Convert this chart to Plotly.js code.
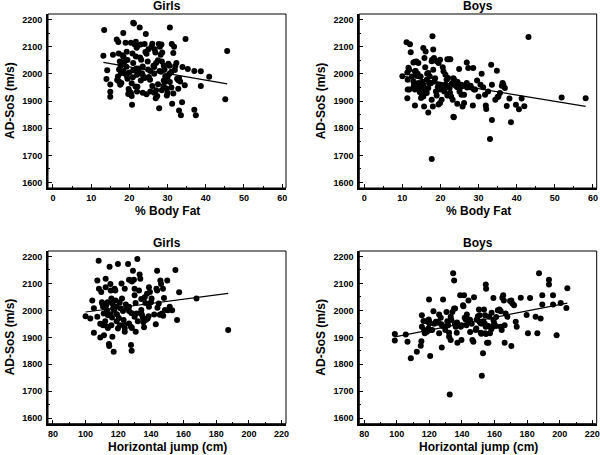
<!DOCTYPE html>
<html>
<head>
<meta charset="utf-8">
<script src="https://cdn.plot.ly/plotly-3.0.1.min.js"></script>
<style>html,body{margin:0;padding:0;background:#fff}#chart{width:600px;height:455px}</style>
</head>
<body>
<div id="chart"></div>
<script>
// ---- Girls: % Body Fat vs AD-SoS ----
const girlsFatX = [13.4,13.2,14.2,14.0,15.0,15.0,15.0,15.7,16.7,17.1,18.4,17.2,17.5,17.7,17.3,17.8,17.0,16.8,17.3,17.6,17.9,18.2,18.5,18.7,19.0,19.3,19.5,19.2,19.3,19.5,19.8,19.7,20.4,20.4,20.8,21.0,21.0,20.9,20.6,20.6,20.7,21.0,21.2,21.4,21.7,21.9,22.1,21.7,21.8,22.0,22.3,21.6,22.1,22.7,23.0,22.8,23.1,23.3,23.6,23.5,24.0,24.3,24.2,24.5,24.8,24.9,25.1,25.4,25.8,26.0,26.3,26.5,26.6,26.8,27.0,27.3,26.9,27.7,28.0,28.4,28.2,28.6,27.9,28.3,29.0,29.2,29.4,29.3,28.9,29.7,30.0,30.2,30.5,30.0,30.6,31.0,29.8,31.2,31.5,31.0,31.9,32.3,32.5,32.8,33.0,33.3,30.6,31.1,31.7,33.9,32.8,31.5,33.0,33.5,33.8,37.0,37.4,34.7,34.5,35.3,37.0,38.7,40.9,38.7,45.6,45.1,27.8,26.5,25.5,24.5,23.5,22.0,20.0,26.0,27.5,28.5,23.0,24.0,25.5,22.5,20.0,18.5,19.0,26.5,27.0,27.5,28.5,30.5,32.0,29.0,25.0];
const girlsFatY = [2161,2066,2013,1981,1961,1934,1916,2070,2126,2117,2150,2075,2045,2030,2016,2002,1990,1977,1972,1960,1966,2068,2062,2043,2114,2081,2051,2026,1993,1982,1944,1926,1930,2114,2075,2040,2013,1987,1965,1918,1886,2188,2185,2108,2118,2096,2102,2064,2020,1997,2003,1953,1952,2170,2108,2060,2052,2002,1992,2027,2110,2146,2080,2074,2045,2016,1988,1978,2100,2111,2030,2000,2090,2078,1940,1918,1910,2110,2100,2108,2070,2078,2010,2008,2030,2016,1990,1970,1955,1946,1930,2037,2030,1988,1970,1950,1920,1890,2077,2008,2014,2040,1982,1976,1985,1972,2170,2110,2100,2025,1945,1928,1865,1848,1895,1868,1848,2128,1958,2018,2010,2009,1989,1955,2084,1906,1873,1930,1935,1925,1930,1935,1935,1955,1962,1940,1975,1985,2010,2020,2005,2010,2000,2025,2040,2050,2045,2000,2028,1975,2090];
const girlsFatFitX = [13.2, 45.6];
const girlsFatFitY = [2042, 1963];

// ---- Boys: % Body Fat vs AD-SoS ----
const boysFatX = [10.0,11.1,12.0,11.6,11.8,11.3,11.4,11.4,11.8,11.3,12.2,12.9,13.3,13.7,14.2,13.3,13.6,14.0,12.9,13.1,12.9,13.3,13.3,14.2,14.5,14.6,14.6,15.1,14.9,15.5,16.1,15.8,16.0,15.5,15.7,16.8,16.4,17.0,16.8,16.4,16.8,17.9,17.7,17.8,18.1,18.3,18.1,18.6,18.4,17.7,18.0,17.7,19.0,19.5,19.9,19.5,19.8,19.3,19.9,19.9,20.3,19.5,20.6,20.8,21.3,21.6,21.3,21.8,22.2,22.6,22.4,22.8,22.8,23.2,23.4,23.6,23.4,23.5,24.0,24.4,24.4,24.9,25.1,25.5,26.2,25.8,26.2,26.9,27.3,26.9,27.9,28.6,28.5,28.8,29.1,29.6,30.0,30.8,31.2,31.7,31.9,32.0,33.3,33.5,33.5,33.0,34.8,34.4,35.2,35.6,36.1,36.3,36.9,37.4,38.1,38.5,39.8,40.6,41.3,42.0,43.1,51.8,58.1,14.8,15.2,15.8,16.0,17.2,17.5,18.8,19.0,20.5,21.0,21.8,22.0,23.0,24.5,25.5,26.0,27.0,28.0,30.5,32.5,35.0,36.5,12.5,13.8,15.5,16.5,20.0,21.5,22.5,25.0,13.5,14.0];
const boysFatY = [1991,2116,2109,2022,2015,2005,1978,1942,1942,1910,2079,2042,2044,2045,2040,2009,2003,2000,1972,1960,1951,1942,1883,1966,1956,1948,1932,1924,1911,2095,2082,2058,2024,1917,1880,2003,1978,1966,1948,1929,1858,2138,2046,2052,2089,2058,2015,1984,1972,1905,1880,1687,2046,2040,2052,1960,1956,1951,1942,1893,1905,1887,2024,2009,1997,1978,1960,2054,2054,2054,1948,1960,1917,1905,1984,1978,1842,1840,1956,1951,1890,2018,1948,1923,1923,1880,1893,2042,2021,1966,1956,2021,1883,1942,1942,1975,1917,2000,1951,1923,1883,1871,2033,1960,1830,1760,2011,1905,1917,1929,1956,1966,1948,1882,1909,1822,1886,1870,1909,1881,2135,1913,1910,1990,1970,1945,1930,1990,1965,1935,1920,1945,1935,1920,1985,1965,1970,1960,1955,1950,1950,1960,1935,1915,1960,1990,1995,1960,2000,1960,1950,1930,1935,2010,1945];
const boysFatFitX = [10.0, 58.1];
const boysFatFitY = [1992, 1880];

// ---- Girls: Horizontal jump vs AD-SoS ----
const girlsJumpX = [100.0,102.9,104.1,105.1,105.1,107.2,107.2,108.0,108.2,109.0,109.6,110.2,110.7,111.1,110.7,111.3,112.3,112.3,112.7,113.1,113.7,113.3,113.7,114.3,114.5,114.7,115.2,115.4,115.8,116.4,116.8,115.4,116.2,115.8,116.4,117.2,117.8,118.2,118.4,118.8,119.2,119.8,119.8,120.4,120.9,121.3,122.3,122.9,123.3,123.7,124.0,124.0,124.0,124.6,126.0,126.6,126.6,126.6,126.6,127.8,128.4,127.8,128.4,127.8,128.2,129.0,129.6,130.0,130.0,130.6,131.1,130.0,130.7,131.7,132.7,133.1,133.5,134.1,134.1,134.5,135.0,135.4,135.8,136.2,136.6,137.6,138.0,138.6,138.8,138.8,139.4,140.4,143.0,143.8,143.4,143.8,144.8,145.4,145.8,146.2,146.8,147.4,148.0,148.6,150.0,151.5,153.0,155.0,156.0,157.3,167.9,187.3,112.0,113.5,117.5,119.0,121.0,125.0,128.0,132.0,134.0,137.0,140.0,142.0,144.0,147.5,150.5,122.0,110.0,109.0];
const girlsJumpY = [1978,1970,2037,2008,1917,1976,2111,2184,2080,1899,2068,2025,2013,1988,1945,1908,2117,2086,2019,2000,1982,1939,1935,1875,1868,2162,2098,2074,2044,2025,2007,1986,1974,1945,1902,1847,2080,2074,2037,2013,1986,2172,1933,1972,2029,2008,2044,1998,1964,1948,1935,1921,2080,2022,2172,2113,2013,1998,1951,2111,2107,1939,1935,1872,1850,2147,2113,2080,2056,2027,1988,1976,1921,2190,2074,2133,2117,2042,2001,1984,1974,1956,1937,2049,2027,2062,1970,1978,2013,2086,2068,2044,1949,2147,2080,2074,2025,1984,2111,2098,1988,2080,2046,2001,2111,2013,2000,2150,1964,2067,2044,1927,1960,2030,2000,1960,1945,2010,1990,1960,1990,1965,2030,1985,2010,1980,2000,2100,2030,1950];
const girlsJumpFitX = [100.0, 187.3];
const girlsJumpFitY = [1994, 2063];

// ---- Boys: Horizontal jump vs AD-SoS ----
const boysJumpX = [98.8,98.8,105.5,106.6,108.6,112.3,114.7,115.1,115.4,115.4,116.4,116.8,117.2,118.6,119.4,119.6,120.0,120.0,119.8,120.5,120.7,121.7,122.5,124.0,125.0,125.4,126.0,127.0,127.4,128.0,127.6,128.4,129.2,129.8,130.5,131.5,132.1,132.1,133.1,133.1,133.5,134.1,134.6,135.2,135.2,135.8,135.6,136.2,136.8,137.2,138.9,139.3,139.7,139.7,140.7,140.9,141.3,141.7,142.3,142.7,144.0,144.4,145.0,146.4,147.0,147.4,148.4,148.8,149.8,150.4,150.8,150.8,151.5,151.5,151.9,152.2,152.5,153.1,152.9,153.5,154.2,154.0,154.6,154.2,154.8,154.6,154.8,155.4,156.2,156.2,156.8,157.2,158.2,158.8,159.3,159.3,159.7,160.9,162.0,163.0,163.8,163.8,164.4,164.8,165.3,165.7,166.2,166.2,166.8,167.9,169.5,170.3,170.3,170.9,172.0,173.0,173.6,176.1,179.7,180.5,181.8,185.2,186.3,187.3,188.3,189.3,189.3,193.4,193.4,195.9,195.9,198.1,200.6,204.7,204.1,118.0,123.0,126.0,131.0,137.0,143.0,146.0,149.0,158.0,161.0,145.0,132.5];
const boysJumpY = [1912,1888,1911,1884,1823,1847,1869,1886,1939,1982,1961,1927,1915,1921,1933,1966,1958,1951,2040,1831,1927,1927,1997,1958,1958,1954,1915,1973,1949,1942,1862,2040,1939,1927,1994,1945,1917,1902,1890,1976,1964,1994,2138,2111,2007,2007,1951,1939,1917,1880,2056,1939,1945,1890,2019,2015,2056,1973,1966,1945,2037,1966,1964,1890,1884,2049,1927,1933,1978,2003,1982,1958,1951,1917,1913,1758,1951,1960,1841,2003,1982,1951,1939,1915,1912,2096,2080,1880,1880,1942,1976,1915,1991,1939,2046,1964,1954,1942,2000,2003,1997,1939,1927,2047,2056,2037,1945,1880,1988,1976,2035,2037,1868,2025,2019,1958,1939,2047,1983,1915,2046,1976,1915,2138,1970,2022,2056,2113,2096,2056,2022,1908,2027,2082,2009,1960,1950,1985,1960,1955,1985,1950,1965,1930,1975,1920,1688];
const boysJumpFitX = [98.8, 204.7];
const boysJumpFitY = [1902, 2027];

// ---- Text ----
const panelTitles = ['Girls', 'Boys', 'Girls', 'Boys'];
const xTitles = ['% Body Fat', '% Body Fat', 'Horizontal jump (cm)', 'Horizontal jump (cm)'];
const yTitle = 'AD-SoS (m/s)';
const yTicks = [1600,1700,1800,1900,2000,2100,2200];
const fatTicks = [0,10,20,30,40,50,60];
const jumpTicks = [80,100,120,140,160,180,200,220];

const FONT = 'Liberation Sans, Arial, Helvetica, sans-serif';
const panels = [
  {x: girlsFatX, y: girlsFatY, fx: girlsFatFitX, fy: girlsFatFitY, xa: 'x', ya: 'y'},
  {x: boysFatX, y: boysFatY, fx: boysFatFitX, fy: boysFatFitY, xa: 'x2', ya: 'y2'},
  {x: girlsJumpX, y: girlsJumpY, fx: girlsJumpFitX, fy: girlsJumpFitY, xa: 'x3', ya: 'y3'},
  {x: boysJumpX, y: boysJumpY, fx: boysJumpFitX, fy: boysJumpFitY, xa: 'x4', ya: 'y4'}
];

const traces = [];
panels.forEach(p => {
  traces.push({type: 'scatter', mode: 'markers', x: p.x, y: p.y, xaxis: p.xa, yaxis: p.ya,
    marker: {color: '#000', size: 6}, hoverinfo: 'skip', showlegend: false, cliponaxis: false});
  traces.push({type: 'scatter', mode: 'lines', x: p.fx, y: p.fy, xaxis: p.xa, yaxis: p.ya,
    line: {color: '#000', width: 1.2}, hoverinfo: 'skip', showlegend: false});
});

const W = 600, H = 455;
const doms = [
  {x: [48/W, 286/W], y: [1-188/H, 1-14/H]},
  {x: [359.3/W, 596.7/W], y: [1-188/H, 1-14/H]},
  {x: [48/W, 286/W], y: [1-423.7/H, 1-251/H]},
  {x: [359.3/W, 596.7/W], y: [1-423.7/H, 1-251/H]}
];

const tickFont = {family: FONT, size: 9, color: '#000', weight: 'bold'};
function xaxis(i) {
  const fat = i < 2;
  return {
    domain: doms[i].x, anchor: 'y' + (i ? i + 1 : ''),
    range: fat ? [-1.3, 61] : [77, 222.7],
    tickvals: fat ? fatTicks : jumpTicks,
    ticks: 'inside', ticklen: 4, tickwidth: 1, tickcolor: '#000',
    minor: {dtick: fat ? 5 : 10, tick0: 0, ticks: 'inside', ticklen: 2, tickcolor: '#000'},
    showline: true, linewidth: 2, linecolor: '#000', showgrid: false, zeroline: false,
    tickfont: tickFont, fixedrange: true
  };
}
function yaxis(i) {
  return {
    domain: doms[i].y, anchor: 'x' + (i ? i + 1 : ''),
    range: [1580, 2220], tickvals: yTicks,
    ticks: 'inside', ticklen: 4, tickwidth: 1, tickcolor: '#000',
    minor: {dtick: 50, ticks: 'inside', ticklen: 2, tickcolor: '#000'},
    showline: true, linewidth: 2, linecolor: '#000', showgrid: false, zeroline: false,
    tickfont: tickFont, ticklabelstandoff: 2, fixedrange: true
  };
}

const layout = {
  width: W, height: H,
  margin: {l: 0, r: 0, t: 0, b: 0},
  paper_bgcolor: '#fff', plot_bgcolor: '#fff',
  showlegend: false,
  annotations: [], shapes: []
};
for (let i = 0; i < 4; i++) {
  const s = i ? String(i + 1) : '';
  layout['xaxis' + s] = xaxis(i);
  layout['yaxis' + s] = yaxis(i);
  const cx = (doms[i].x[0] + doms[i].x[1]) / 2;
  const top = doms[i].y[1], bot = doms[i].y[0];
  layout.annotations.push({text: panelTitles[i], xref: 'paper', yref: 'paper', x: cx, y: top + 8/H,
    xanchor: 'center', yanchor: 'middle', showarrow: false,
    font: {family: FONT, size: 12, color: '#000', weight: 'bold'}});
  layout.annotations.push({text: xTitles[i], xref: 'paper', yref: 'paper', x: cx, y: bot - 23/H,
    xanchor: 'center', yanchor: 'middle', showarrow: false,
    font: {family: FONT, size: 12, color: '#000', weight: 'bold'}});
  layout.annotations.push({text: yTitle, xref: 'paper', yref: 'paper', x: doms[i].x[0] - 38/W, y: (top + bot) / 2,
    xanchor: 'center', yanchor: 'middle', textangle: -90, showarrow: false,
    font: {family: FONT, size: 12, color: '#000', weight: 'bold'}});
  layout.shapes.push({type: 'rect', xref: 'x' + s + ' domain', yref: 'y' + s + ' domain',
    x0: 0, x1: 1, y0: 0, y1: 1, line: {color: '#000', width: 1}, layer: 'above'});
}

Plotly.newPlot('chart', traces, layout, {displayModeBar: false, staticPlot: true});
</script>
</body>
</html>
